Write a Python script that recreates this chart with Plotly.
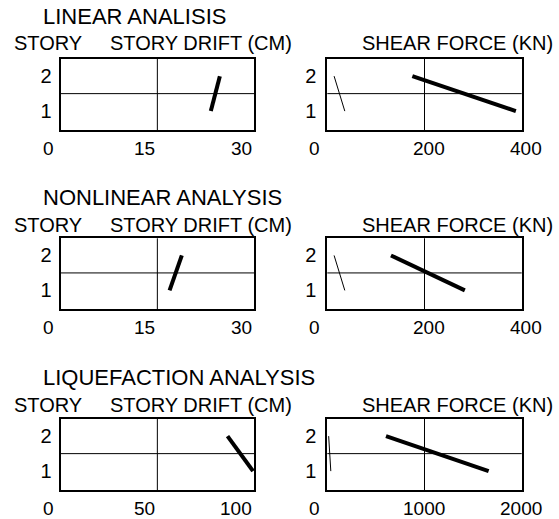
import plotly.graph_objects as go

# ---------------- data ----------------
stories = [1, 2]
story_ticks = [1, 2]
story_mid = 1.5

panel_titles = ["LINEAR ANALISIS", "NONLINEAR ANALYSIS", "LIQUEFACTION ANALYSIS"]

drift_linear = [23.3, 24.7]
drift_nonlinear = [16.9, 18.8]
drift_liquefaction = [99.5, 86.3]

shear_linear = [388, 175]
shear_nonlinear = [283, 131]
shear_liquefaction = [1660, 604]
shear_thin = [36, 14]

drift_ticks_small = [0, 15, 30]
drift_ticks_large = [0, 50, 100]
shear_ticks_small = [0, 200, 400]
shear_ticks_large = [0, 1000, 2000]

drift_series = [drift_linear, drift_nonlinear, drift_liquefaction]
shear_series = [shear_linear, shear_nonlinear, shear_liquefaction]
drift_ticks = [drift_ticks_small, drift_ticks_small, drift_ticks_large]
shear_ticks = [shear_ticks_small, shear_ticks_small, shear_ticks_large]

# ---------------- layout ----------------
W, H = 559, 519
FONT = "Liberation Sans, Arial, sans-serif"
x_dom = [[60.7 / W, 254 / W], [327.3 / W, 521.7 / W]]
y_dom = [[1 - 130 / H, 1 - 59 / H], [1 - 309.3 / H, 1 - 238.3 / H], [1 - 490 / H, 1 - 419 / H]]
title_y = [17, 197.5, 377.5]
label_y = [43, 224.7, 405.3]
y_range = [0.46, 2.49]

fig = go.Figure()
layout = dict(
    width=W, height=H, margin=dict(l=0, r=0, t=0, b=0),
    paper_bgcolor="white", plot_bgcolor="white", showlegend=False,
    font=dict(family=FONT, color="black", size=20),
)
annotations = []
shapes = []

n = 0
for r in range(3):
    for c in range(2):
        n += 1
        xa = "x" if n == 1 else f"x{n}"
        ya = "y" if n == 1 else f"y{n}"
        xkey = "xaxis" if n == 1 else f"xaxis{n}"
        ykey = "yaxis" if n == 1 else f"yaxis{n}"
        ticks = drift_ticks[r] if c == 0 else shear_ticks[r]
        layout[xkey] = dict(
            domain=x_dom[c], anchor=ya, range=[ticks[0], ticks[-1]],
            showgrid=False, zeroline=False, showticklabels=False, ticks="",
            showline=True, mirror=True, linecolor="black", linewidth=2,
            fixedrange=True,
        )
        layout[ykey] = dict(
            domain=y_dom[r], anchor=xa, range=y_range,
            tickvals=story_ticks, ticktext=[str(s) for s in story_ticks],
            showgrid=False, zeroline=False, ticks="",
            showline=True, mirror=True, linecolor="black", linewidth=2,
            tickfont=dict(size=20), ticklabelstandoff=3 if c == 0 else 5,
            fixedrange=True,
        )
        # inner cross lines
        shapes.append(dict(type="line", xref=f"{xa} domain", yref=ya, x0=0, x1=1,
                           y0=story_mid, y1=story_mid, line=dict(color="black", width=1),
                           layer="below"))
        shapes.append(dict(type="line", xref=xa, yref=f"{ya} domain", x0=ticks[1], x1=ticks[1],
                           y0=0, y1=1, line=dict(color="black", width=1), layer="below"))
        # data
        if c == 0:
            fig.add_trace(go.Scatter(x=drift_series[r], y=stories, mode="lines",
                                     line=dict(color="black", width=4), xaxis=xa, yaxis=ya))
        else:
            fig.add_trace(go.Scatter(x=shear_thin, y=stories, mode="lines",
                                     line=dict(color="black", width=1), xaxis=xa, yaxis=ya))
            fig.add_trace(go.Scatter(x=shear_series[r], y=stories, mode="lines",
                                     line=dict(color="black", width=4), xaxis=xa, yaxis=ya))
        # x tick labels
        for i, t in enumerate(ticks):
            if i == 0:
                xs = -5
            else:
                xs = 0 if c == 0 else 22
            annotations.append(dict(text=str(t), xref=xa, yref=f"{ya} domain", x=t, y=0,
                                    xanchor="right", yanchor="middle", yshift=-18, xshift=xs,
                                    showarrow=False, font=dict(size=19)))
    # row titles and axis titles
    annotations.append(dict(text=panel_titles[r], xref="paper", yref="paper",
                            x=41 / W, y=1 - title_y[r] / H, xanchor="left", yanchor="middle",
                            showarrow=False, font=dict(size=22)))
    annotations.append(dict(text="STORY", xref="paper", yref="paper",
                            x=11.5 / W, y=1 - label_y[r] / H, xanchor="left", yanchor="middle",
                            showarrow=False, font=dict(size=20)))
    annotations.append(dict(text="STORY DRIFT (CM)", xref="paper", yref="paper",
                            x=108 / W, y=1 - label_y[r] / H, xanchor="left", yanchor="middle",
                            showarrow=False, font=dict(size=20)))
    annotations.append(dict(text="SHEAR FORCE (KN)", xref="paper", yref="paper",
                            x=359.5 / W, y=1 - label_y[r] / H, xanchor="left", yanchor="middle",
                            showarrow=False, font=dict(size=20)))

layout["annotations"] = annotations
layout["shapes"] = shapes
fig.update_layout(**layout)
fig.write_html("out.html", config={"displayModeBar": False},
               post_script="document.body.style.margin='0';document.body.style.overflow='hidden';")
